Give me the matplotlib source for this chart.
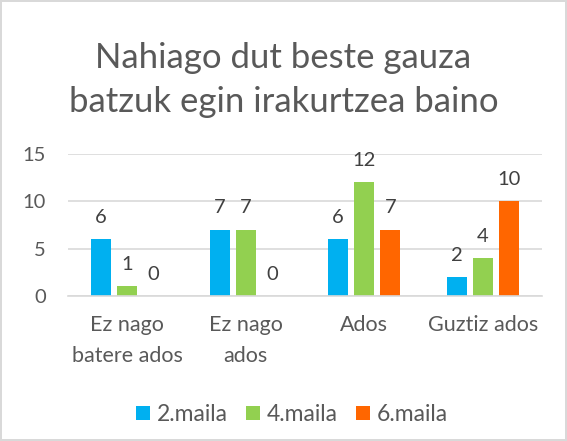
import matplotlib.pyplot as plt
import numpy as np

categories = ["Ez nago\nbatere ados", "Ez nago\nados", "Ados", "Guztiz ados"]
series_names = ["2.maila", "4.maila", "6.maila"]
maila2 = [6, 7, 6, 2]
maila4 = [1, 7, 12, 4]
maila6 = [0, 0, 7, 10]
colors = ["#00B0F0", "#92D050", "#FF6600"]

plt.rcParams['font.family'] = ['Lato', 'DejaVu Sans']

fig = plt.figure(figsize=(5.67, 4.41), dpi=100)
fig.patch.set_edgecolor('#D9D9D9')
fig.patch.set_linewidth(1.5)
ax = fig.add_axes([0.12, 0.329, 0.836, 0.322])

x = np.arange(len(categories))
width = 0.17
step = 0.22
for i, (vals, name, c) in enumerate(zip([maila2, maila4, maila6], series_names, colors)):
    pos = x + (i - 1) * step
    ax.bar(pos, vals, width, color=c, label=name)
    for xp, v in zip(pos, vals):
        ax.text(xp, v + 1.4, str(v), ha='center', va='bottom', fontsize=14.5, color='#404040')

ax.set_ylim(0, 15)
ax.set_yticks([0, 5, 10, 15])
ax.set_xlim(-0.5, 3.5)
ax.set_xticks(x)
ax.set_xticklabels(categories, fontsize=15.5, color='#595959', linespacing=1.65)
ax.tick_params(axis='y', labelsize=14.5, labelcolor='#595959', length=0, pad=16)
ax.tick_params(axis='x', length=0, pad=14)
ax.grid(axis='y', color='#D9D9D9', linewidth=1.2)
ax.set_axisbelow(True)
for s in ['top', 'right', 'left']:
    ax.spines[s].set_visible(False)
ax.spines['bottom'].set_color('#D9D9D9')
ax.spines['bottom'].set_linewidth(1.2)

fig.suptitle("Nahiago dut beste gauza\nbatzuk egin irakurtzea baino", y=0.905,
             fontsize=25, color='#595959', linespacing=1.45)

fig.legend(loc='center', bbox_to_anchor=(0.515, 0.06), ncol=3, frameon=False,
           fontsize=16.5, labelcolor='#595959', handlelength=0.6, handleheight=0.6,
           handletextpad=0.3, columnspacing=0.8)

fig.savefig("out.png", dpi=100)
